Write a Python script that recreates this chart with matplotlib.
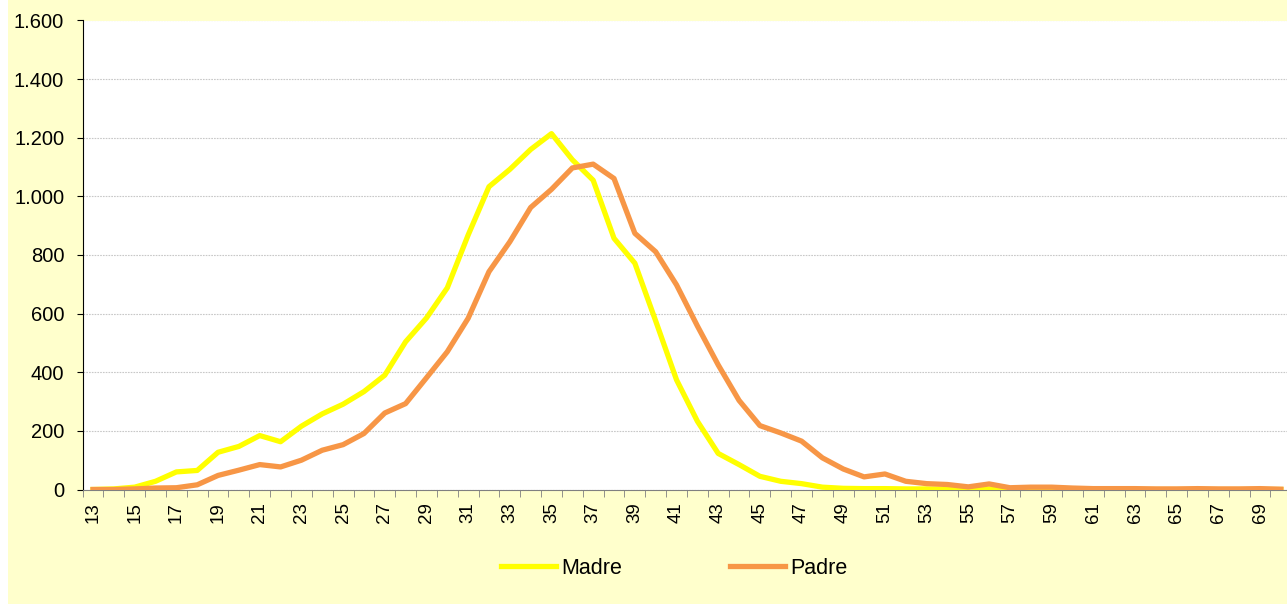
import matplotlib
matplotlib.use("Agg")
import matplotlib.pyplot as plt
from matplotlib.patches import Rectangle
from matplotlib.ticker import FuncFormatter, MultipleLocator

# Edad (13 a 70) y número de nacimientos por edad del padre / madre
edades = list(range(13, 71))
madre = [0, 2, 8, 28, 60, 65, 127, 147, 184, 163,       # 13-22
         216, 258, 291, 334, 390, 504, 585, 688, 868, 1033,  # 23-32
         1092, 1160, 1214, 1125, 1055, 857, 772, 575, 374, 233,  # 33-42
         123, 85, 45, 28, 20, 8, 4, 3, 3, 2,             # 43-52
         2, 1, 1, 2, 1, 1, 1, 0, 0, 0,                   # 53-62
         0, 0, 0, 0, 0, 0, 0, 0]                         # 63-70
padre = [0, 0, 2, 5, 6, 16, 48, 66, 85, 77,              # 13-22
         100, 134, 153, 191, 261, 293, 381, 470, 584, 743,  # 23-32
         845, 962, 1024, 1097, 1110, 1061, 874, 811, 698, 558,  # 33-42
         425, 304, 218, 193, 165, 108, 70, 43, 53, 28,   # 43-52
         20, 17, 9, 19, 6, 8, 8, 5, 3, 3,                # 53-62
         3, 2, 2, 3, 2, 2, 3, 1]                         # 63-70

plt.rcParams['font.family'] = ['Liberation Sans', 'DejaVu Sans']

W, H = 1287, 604
fig = plt.figure(figsize=(W / 100, H / 100), dpi=100, facecolor='white')
fig.patches.append(Rectangle((8 / W, 0), 1 - 8 / W, 1, transform=fig.transFigure,
                             facecolor='#FFFFCC', edgecolor='none', zorder=-10))

left, right, top, bottom = 82.6, 1291.3, 20.5, 489.5
ax = fig.add_axes([left / W, 1 - bottom / H, (right - left) / W, (bottom - top) / H])
ax.set_facecolor('white')

ax.plot(edades, madre, color='#FFFF00', lw=3.8, label='Madre', zorder=3)
ax.plot(edades, padre, color='#F79646', lw=3.8, label='Padre', zorder=4)

ax.set_xlim(12.5, 70.5)
ax.set_ylim(0, 1600)

ax.yaxis.set_major_locator(MultipleLocator(200))
ax.yaxis.set_major_formatter(FuncFormatter(lambda v, p: f"{v:,.0f}".replace(',', '.')))
ax.grid(axis='y', color='#C8C8C8', linestyle=(0, (1.5, 1)), lw=0.8)
ax.set_axisbelow(True)

ax.set_xticks(edades[::2])
ax.set_xticklabels([str(e) for e in edades[::2]], rotation=90)
ax.set_xticks([e - 0.5 for e in edades] + [70.5], minor=True)
ax.tick_params(axis='x', which='major', length=0, pad=9, labelsize=13.5)
ax.tick_params(axis='x', which='minor', length=5, color='#808080', direction='out')
ax.tick_params(axis='y', length=4.3, color='black', pad=9, labelsize=14.5)

for s in ['top', 'right']:
    ax.spines[s].set_visible(False)
ax.spines['left'].set_color('black')
ax.spines['bottom'].set_color('#808080')

fig.legend(loc='center', bbox_to_anchor=(0.5237, 1 - 568 / H), ncol=2, frameon=False,
           fontsize=15.5, handlelength=2.55, handletextpad=0.25, columnspacing=5)

fig.savefig('out.png', dpi=100, facecolor=fig.get_facecolor())
